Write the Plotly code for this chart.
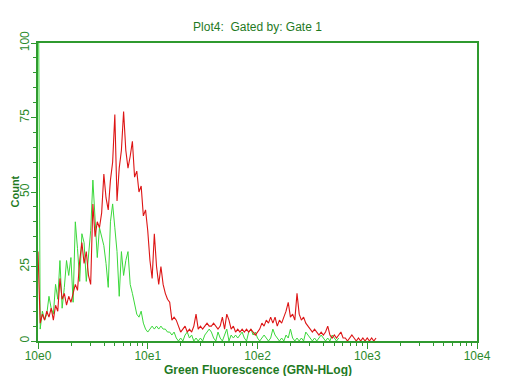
import plotly.graph_objects as go

# Histogram channels: log10 position of each channel (decades), regular channel grid
channel_step = 0.02

red_counts = [
    30, 6, 9, 7, 10, 8, 11, 7, 12, 10,
    21, 14, 16, 12, 15, 13, 16, 19, 17, 27,
    33, 26, 30, 22, 19, 46, 35, 40, 38, 43,
    56, 48, 44, 54, 60, 76, 47, 58, 64, 77,
    64, 58, 62, 67, 55, 57, 50, 52, 42, 44,
    37, 27, 21, 36, 25, 19, 25, 19, 16, 14,
    13, 7, 8, 7, 5, 3, 4, 5, 3, 4,
    3, 5, 9, 4, 5, 4, 5, 6, 5, 5,
    6, 5, 4, 5, 8, 4, 9, 7, 4, 5,
    3, 4, 3, 4, 3, 4, 3, 4, 3, 2,
    3, 4, 6, 5, 7, 6, 8, 6, 8, 5,
    7, 6, 8, 10, 13, 8, 9, 7, 16, 9,
    7, 8, 6, 5, 4, 3, 4, 3, 2, 3,
    2, 3, 5, 2, 1, 2, 1, 2, 3, 1,
    1, 0, 1, 2, 1, 0, 1, 0, 1, 0,
    1, 0, 1, 0, 1,
]

green_counts = [
    150, 4, 10, 7, 9, 15, 11, 9, 19, 14,
    27, 11, 18, 27, 22, 28, 13, 40, 31, 20,
    36, 33, 20, 30, 37, 54, 42, 28, 38, 35,
    32, 26, 18, 40, 46, 38, 30, 15, 30, 22,
    27, 30, 19, 16, 12, 9, 8, 10, 6, 4,
    3, 4, 5, 4, 5, 4, 5, 4, 4, 3,
    3, 2, 3, 1, 0, 1, 0, 2, 3, 1,
    2, 0, 1, 0, 1, 0, 2, 3, 4, 3,
    1, 0, 3, 1, 0, 2, 4, 0, 2, 1,
    2, 1, 2, 3, 1, 0, 3, 4, 2, 3,
    1, 0, 1, 2, 1, 0, 1, 4, 2, 1,
    0, 1, 0, 2, 1, 4, 1, 0, 1, 0,
    1, 0, 3, 2, 1, 0, 1, 0, 1, 2,
    1, 0, 1, 0, 2, 1, 0, 1,
]

x_tick_values = [1, 10, 100, 1000, 10000]
x_tick_labels = ["10e0", "10e1", "10e2", "10e3", "10e4"]
y_tick_values = [0, 25, 50, 75, 100]

title_text = "Plot4:  Gated by: Gate 1"
x_title = "Green Fluorescence (GRN-HLog)"
y_title = "Count"

red_x = [10 ** (i * channel_step) for i in range(len(red_counts))]
green_x = [10 ** (i * channel_step) for i in range(len(green_counts))]

minor_x = [m * d for d in (1, 10, 100, 1000) for m in range(2, 10)]

axis_green = "#2f9a2f"
text_green = "#2b8a2b"
title_green = "#1f7a1f"
font_family = "Liberation Sans, Arial, sans-serif"

# page body has an 8px margin, so the figure is drawn 8px in from the top-left
FIG_W, FIG_H = 496, 368
M_L, M_R, M_T, M_B = 30, 27, 35, 35
plot_w = FIG_W - M_L - M_R
plot_h = FIG_H - M_T - M_B

fig = go.Figure()
fig.add_trace(go.Scatter(x=green_x, y=green_counts, mode="lines",
                         line=dict(color="#3ad83a", width=1), showlegend=False))
fig.add_trace(go.Scatter(x=red_x, y=red_counts, mode="lines",
                         line=dict(color="#dd1515", width=1.1), showlegend=False))

fig.update_layout(
    width=FIG_W, height=FIG_H,
    margin=dict(l=M_L, r=M_R, t=M_T, b=M_B, pad=0, autoexpand=False),
    paper_bgcolor="white", plot_bgcolor="white",
    font=dict(family=font_family, size=11, color=text_green),
    title=dict(text=title_text, x=0.503, xanchor="center", y=1 - 19 / FIG_H,
               yanchor="middle", font=dict(size=12, color=title_green),
               automargin=False),
)

# axis titles placed as paper annotations
fig.add_annotation(text="<b>" + x_title + "</b>", xref="paper", yref="paper",
                   x=0.5, y=-(362 - (FIG_H - M_B)) / plot_h,
                   xanchor="center", yanchor="middle", showarrow=False,
                   font=dict(size=12, color=title_green))
fig.add_annotation(text="<b>" + y_title + "</b>", xref="paper", yref="paper",
                   x=(6.5 - M_L) / plot_w, y=0.5, textangle=-90,
                   xanchor="center", yanchor="middle", showarrow=False,
                   font=dict(size=11, color=title_green))

fig.update_xaxes(
    type="log", range=[0, 4], automargin=False,
    tickmode="array", tickvals=x_tick_values, ticktext=x_tick_labels,
    ticks="outside", ticklen=6, tickcolor=axis_green, tickwidth=1,
    showline=True, linecolor=axis_green, linewidth=1.5, mirror=True,
    showgrid=False, zeroline=False, ticklabelstandoff=-3,
    tickfont=dict(size=12, color=text_green),
    minor=dict(tickmode="array", tickvals=minor_x, ticks="outside",
               ticklen=3, tickcolor=axis_green, showgrid=False),
)

fig.update_yaxes(
    range=[0, 100], automargin=False,
    tickmode="array", tickvals=y_tick_values,
    ticks="outside", ticklen=5, tickcolor=axis_green, tickwidth=1,
    showline=True, linecolor=axis_green, linewidth=1.5, mirror=True,
    showgrid=False, zeroline=False, tickangle=-90, ticklabelstandoff=-3,
    tickfont=dict(size=12, color=text_green),
    minor=dict(dtick=5, ticks="outside", ticklen=3, tickcolor=axis_green,
               showgrid=False),
)

fig.write_html("out.html")
